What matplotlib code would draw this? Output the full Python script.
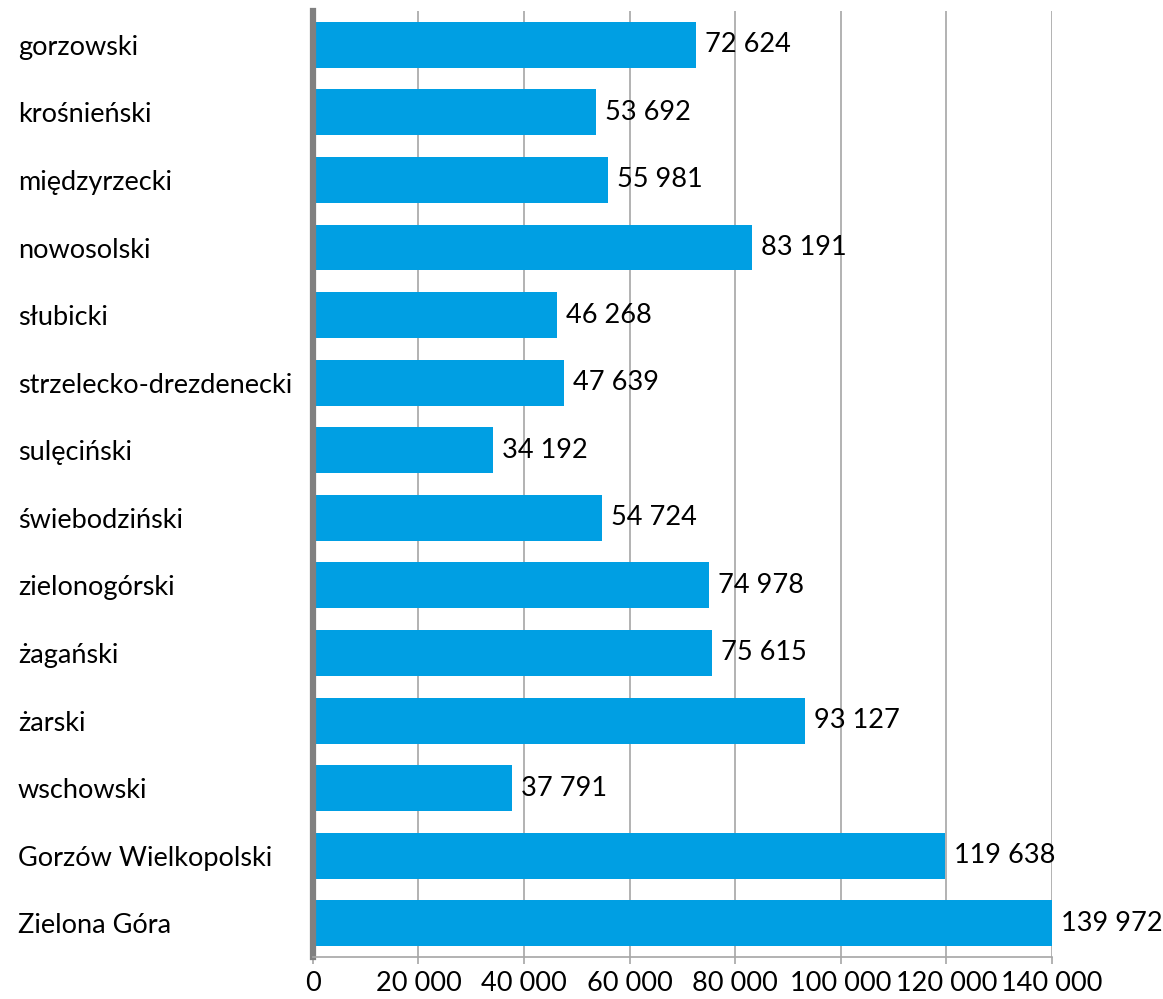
import matplotlib
matplotlib.use("Agg")
import matplotlib.pyplot as plt

# Population by powiat (Lubuskie)
categories = ["gorzowski", "krośnieński", "międzyrzecki", "nowosolski", "słubicki",
              "strzelecko-drezdenecki", "sulęciński", "świebodziński", "zielonogórski",
              "żagański", "żarski", "wschowski", "Gorzów Wielkopolski", "Zielona Góra"]
values = [72624, 53692, 55981, 83191, 46268, 47639, 34192, 54724, 74978,
          75615, 93127, 37791, 119638, 139972]
xticks = [0, 20000, 40000, 60000, 80000, 100000, 120000, 140000]


def fmt(v):
    return f"{v:,}".replace(",", " ")


plt.rcParams["font.family"] = ["Lato", "DejaVu Sans"]
FS = 19.5

fig = plt.figure(figsize=(11.63, 9.99), dpi=100)
ax = fig.add_axes([0.269, 0.042, 0.9046 - 0.269, 0.989 - 0.042])

ypos = list(range(len(categories)))
ax.barh(ypos, values, height=0.68, color="#009FE3", zorder=2)
for y, v in zip(ypos, values):
    ax.text(v + 1700, y, fmt(v), va="center", ha="left", fontsize=FS, color="black")

ax.set_xlim(0, 140000)
ax.set_ylim(len(categories) - 0.5, -0.5)
ax.set_xticks(xticks)
ax.set_xticklabels([fmt(t) for t in xticks], fontsize=FS)
ax.set_yticks(ypos)
ax.set_yticklabels(categories, fontsize=FS)
for lbl in ax.get_yticklabels():
    lbl.set_horizontalalignment("left")
ax.tick_params(axis="y", length=0, pad=(313 - 18) / 100 * 72)
ax.tick_params(axis="x", length=5, width=1.2, color="#A6A6A6", pad=5)

ax.grid(axis="x", color="#A6A6A6", linewidth=1.2, zorder=0)
ax.set_axisbelow(True)
for s in ["top", "right"]:
    ax.spines[s].set_visible(False)
ax.spines["left"].set_color("#808080")
ax.spines["left"].set_linewidth(4.5)
ax.spines["bottom"].set_color("#A6A6A6")
ax.spines["bottom"].set_linewidth(1.2)

fig.savefig("out.png", dpi=100)
